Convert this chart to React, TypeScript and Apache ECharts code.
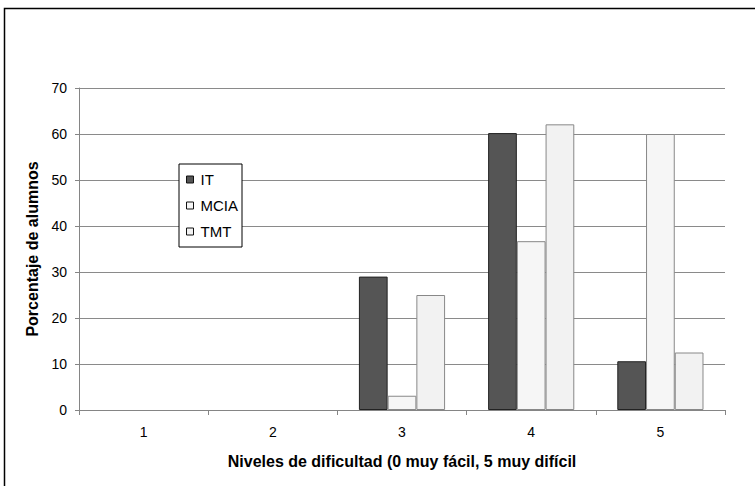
import React, { useEffect, useRef } from "react";
import * as echarts from "echarts";

const categories = ["1", "2", "3", "4", "5"];
const seriesNames = ["IT", "MCIA", "TMT"];
const itValues = [0, 0, 29, 60.2, 10.6];
const mciaValues = [0, 0, 3.1, 36.7, 60];
const tmtValues = [0, 0, 25, 62.1, 12.5];
const yTicks = { min: 0, max: 70, interval: 10 };

const arial = "'Liberation Sans', Arial, sans-serif";

export default function App() {
  const ref = useRef<HTMLDivElement>(null);
  useEffect(() => {
    if (!ref.current) return;
    const chart = echarts.init(ref.current, null, { renderer: "svg" });
    const styles = [
      { color: "#555555", borderColor: "#222222" },
      { color: "#f6f6f6", borderColor: "#888888" },
      { color: "#f2f2f2", borderColor: "#888888" },
    ];
    const data = [itValues, mciaValues, tmtValues];
    chart.setOption({
      animation: false,
      backgroundColor: "#ffffff",
      graphic: [
        {
          type: "rect",
          shape: { x: 4.5, y: 8.5, width: 800, height: 520 },
          style: { fill: "none", stroke: "#000000", lineWidth: 1.5 },
          silent: true,
          z: 0,
        },
      ],
      grid: { left: 79, top: 88, width: 646, height: 322, show: false },
      legend: {
        orient: "vertical",
        left: 179,
        top: 164,
        padding: [7, 4, 7, 7],
        itemGap: 9,
        itemWidth: 7,
        itemHeight: 7,
        backgroundColor: "#ffffff",
        borderColor: "#000000",
        borderWidth: 1,
        borderRadius: 0,
        icon: "rect",
        itemStyle: { borderColor: "#111111", borderWidth: 1 },
        textStyle: {
          fontFamily: arial,
          fontSize: 15,
          lineHeight: 17,
          color: "#000",
          padding: [0, 0, 0, 2],
        },
        data: seriesNames,
        z: 10,
      },
      xAxis: {
        type: "category",
        data: categories,
        name: "Niveles de dificultad (0 muy fácil, 5 muy difícil",
        nameLocation: "middle",
        nameGap: 43,
        nameTextStyle: { fontFamily: arial, fontSize: 16, fontWeight: "bold", color: "#000" },
        axisLine: { show: true, lineStyle: { color: "#858585", width: 1 } },
        axisTick: { show: true, length: 5, lineStyle: { color: "#858585" } },
        axisLabel: { fontFamily: arial, fontSize: 14, color: "#000", margin: 15 },
        splitLine: { show: false },
      },
      yAxis: {
        type: "value",
        min: yTicks.min,
        max: yTicks.max,
        interval: yTicks.interval,
        name: "Porcentaje de alumnos",
        nameLocation: "middle",
        nameGap: 39,
        nameTextStyle: { fontFamily: arial, fontSize: 16, fontWeight: "bold", color: "#000" },
        axisLine: { show: true, onZero: false, lineStyle: { color: "#858585", width: 1 } },
        axisTick: { show: true, length: 4, inside: false, lineStyle: { color: "#858585" } },
        axisLabel: { fontFamily: arial, fontSize: 14, color: "#000", margin: 12 },
        splitLine: { show: true, lineStyle: { color: "#8a8a8a", width: 1 } },
      },
      series: seriesNames.map((name, i) => ({
        name,
        type: "bar",
        data: data[i].map((v) =>
          v === 0 ? { value: v, itemStyle: { borderWidth: 0, opacity: 0 } } : v
        ),
        barGap: "0%",
        barCategoryGap: "33.3%",
        itemStyle: { color: styles[i].color, borderColor: styles[i].borderColor, borderWidth: 1 },
      })),
    });
    return () => chart.dispose();
  }, []);
  return (
    <div
      ref={ref}
      style={{ position: "fixed", left: 0, top: 0, width: 755, height: 486 }}
    />
  );
}
